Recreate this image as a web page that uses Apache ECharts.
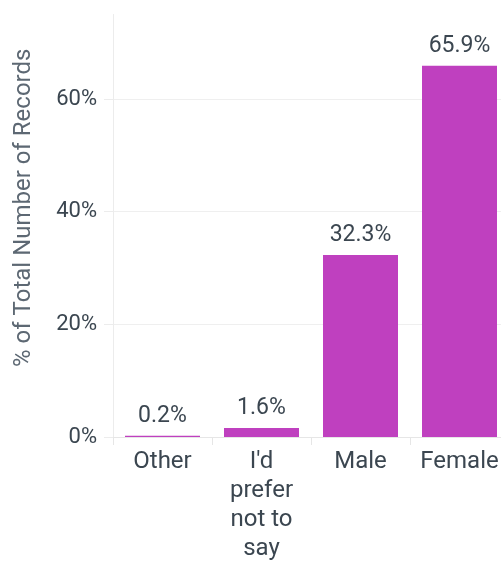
<!DOCTYPE html>
<html><head><meta charset="utf-8">
<script src="https://cdn.jsdelivr.net/npm/echarts@6/dist/echarts.min.js"></script>
<style>html,body{margin:0;padding:0;background:#fff}#c{width:501px;height:563px}</style>
</head><body><div id="c"></div>
<script>
var categories = ["Other", "I'd\nprefer\nnot to\nsay", "Male", "Female"];
var values = [0.2, 1.6, 32.3, 65.9];
var yTicks = [0, 20, 40, 60];
var yTitle = "% of Total Number of Records";

var chart = echarts.init(document.getElementById('c'), null, {renderer: 'canvas'});
var font = "Roboto, sans-serif";
chart.setOption({
  animation: false,
  grid: {left: 113, top: 14.5, right: -8, bottom: 126, containLabel: false, outerBoundsMode: 'none'},
  xAxis: {
    type: 'category', data: categories,
    axisLine: {lineStyle: {color: '#e6e6e6'}},
    axisTick: {show: true, length: 8, lineStyle: {color: '#e6e6e6'}},
    axisLabel: {color: '#3b4650', fontFamily: font, fontSize: 24, lineHeight: 29, margin: 10, interval: 0}
  },
  yAxis: {
    type: 'value', min: 0, max: 75, interval: 20,
    name: yTitle, nameLocation: 'middle', nameGap: 77,
    nameTextStyle: {color: '#5d6873', fontFamily: font, fontSize: 24, padding: [0, 0, 0, 36]},
    axisLine: {show: true, lineStyle: {color: '#ececec'}},
    axisTick: {show: true, length: 9, customValues: yTicks, lineStyle: {color: '#ececec'}},
    splitLine: {lineStyle: {color: ['#efefef', '#efefef', '#efefef', '#efefef', 'rgba(0,0,0,0)']}},
    axisLabel: {color: '#3b4650', fontFamily: font, fontSize: 22, margin: 16, customValues: yTicks,
      formatter: function(v){ return yTicks.indexOf(v) >= 0 ? v + '%' : ''; }}
  },
  series: [{
    type: 'bar', data: values, barWidth: 75,
    itemStyle: {color: '#bf40bf'},
    label: {show: true, position: 'top', distance: 8, color: '#3b4650', fontFamily: font, fontSize: 23,
      formatter: function(p){ return p.value.toFixed(1) + '%'; }}
  }]
});
</script></body></html>
